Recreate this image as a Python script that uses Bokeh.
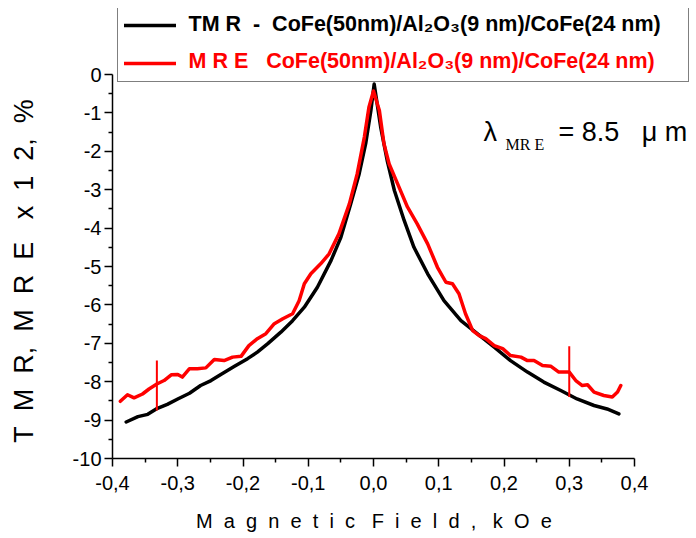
from bokeh.plotting import figure
from bokeh.models import (Range1d, FixedTicker, CustomJSTickFormatter, Legend,
                          LegendItem, Label)
from bokeh.embed import file_html
from bokeh.resources import INLINE

# ---------------- data ----------------
tmr_x = [-0.379, -0.361, -0.346, -0.333, -0.316, -0.300, -0.282, -0.265, -0.249,
         -0.234, -0.213, -0.193, -0.178, -0.162, -0.142, -0.124, -0.106, -0.086,
         -0.065, -0.050, -0.035, -0.022, -0.012, -0.004, 0.001, 0.011, 0.021,
         0.032, 0.047, 0.062, 0.083, 0.108, 0.134, 0.159, 0.185, 0.210, 0.236,
         0.261, 0.287, 0.312, 0.338, 0.358, 0.376]
tmr_y = [-9.05, -8.91, -8.85, -8.71, -8.59, -8.45, -8.30, -8.10, -7.97,
         -7.81, -7.60, -7.40, -7.23, -7.01, -6.71, -6.41, -6.06, -5.54,
         -4.84, -4.24, -3.37, -2.59, -1.80, -0.94, -0.25, -1.37, -2.24,
         -3.02, -3.80, -4.50, -5.19, -5.89, -6.41, -6.75, -7.10, -7.45, -7.75,
         -8.01, -8.23, -8.45, -8.62, -8.71, -8.84]

mre_x = [-0.388, -0.377, -0.367, -0.354, -0.344, -0.332, -0.321, -0.310, -0.300,
         -0.293, -0.282, -0.270, -0.257, -0.244, -0.229, -0.216, -0.203, -0.191,
         -0.178, -0.165, -0.152, -0.139, -0.124, -0.114, -0.106, -0.096, -0.081,
         -0.068, -0.053, -0.037, -0.025, -0.014, -0.007, 0.000, 0.009, 0.016,
         0.024, 0.037, 0.052, 0.067, 0.083, 0.098, 0.111, 0.121, 0.131, 0.141,
         0.152, 0.162, 0.172, 0.185, 0.198, 0.210, 0.226, 0.236, 0.246, 0.259,
         0.272, 0.284, 0.300, 0.310, 0.320, 0.328, 0.338, 0.353, 0.366, 0.374,
         0.379]
mre_y = [-8.51, -8.34, -8.42, -8.32, -8.19, -8.06, -7.97, -7.82, -7.81,
         -7.88, -7.66, -7.66, -7.64, -7.42, -7.45, -7.36, -7.34, -7.06,
         -6.88, -6.75, -6.49, -6.36, -6.23, -5.89, -5.45, -5.19, -4.93,
         -4.67, -4.15, -3.37, -2.59, -1.63, -0.85, -0.43, -0.94, -1.80,
         -2.33, -2.85, -3.45, -3.89, -4.41, -5.02, -5.41, -5.45, -5.71, -6.23,
         -6.67, -6.80, -6.88, -7.06, -7.14, -7.32, -7.36, -7.45, -7.45, -7.58,
         -7.60, -7.75, -7.75, -7.97, -8.10, -8.08, -8.27, -8.36, -8.40, -8.27,
         -8.10]

marker_x = [-0.332, 0.300]
marker_top = [-7.45, -7.08]
marker_bottom = [-8.75, -8.40]

x_ticks = [-0.4, -0.3, -0.2, -0.1, 0.0, 0.1, 0.2, 0.3, 0.4]
x_tick_labels = ["-0,4", "-0,3", "-0,2", "-0,1", "0,0", "0,1", "0,2", "0,3", "0,4"]
x_minor_ticks = [-0.35, -0.25, -0.15, -0.05, 0.05, 0.15, 0.25, 0.35]
y_ticks = [-10, -9, -8, -7, -6, -5, -4, -3, -2, -1, 0]
y_tick_labels = ["-10", "-9", "-8", "-7", "-6", "-5", "-4", "-3", "-2", "-1", "0"]
y_minor_ticks = [-9.5, -8.5, -7.5, -6.5, -5.5, -4.5, -3.5, -2.5, -1.5, -0.5]

NB = "\u00a0"
tmr_label = "TM R" + NB * 2 + "-" + NB * 2 + "CoFe(50nm)/Al\u2082O\u2083(9 nm)/CoFe(24 nm)"
mre_label = "M R E" + NB * 3 + "CoFe(50nm)/Al\u2082O\u2083(9 nm)/CoFe(24 nm)"
x_title = ((NB * 2).join(list("Magnetic")) + NB * 3 + (NB * 2).join(list("Field,"))
           + NB * 3 + (NB * 2).join(list("kOe")))
y_title = ("T" + NB * 2 + "M" + NB * 2 + "R," + NB * 2 + "M" + NB * 2 + "R" + NB * 2 + "E" + NB * 3
           + "x" + NB * 2 + "1" + NB * 2 + "2," + NB * 2 + "%")

# ---------------- layout ----------------
W, H = 696, 538
LEFT, TOP, BOTTOM = 112, 8, 80
PX_X = 652.5   # pixels per kOe
PX_Y = 38.4    # pixels per unit
FRAME_H = H - TOP - BOTTOM
x_end = -0.4 + (W - LEFT) / PX_X
y_end = FRAME_H / PX_Y - 10
TXT_UP = 9 / PX_Y   # baseline correction for text annotations

FONT = "Liberation Sans"

p = figure(width=W, height=H, x_range=Range1d(-0.4, x_end), y_range=Range1d(-10, y_end),
           output_backend="svg", toolbar_location=None,
           min_border_left=LEFT, min_border_bottom=BOTTOM, min_border_top=TOP, min_border_right=0)
p.outline_line_color = None
p.xgrid.visible = False
p.ygrid.visible = False
p.background_fill_color = "white"
p.border_fill_color = "white"

r_tmr = p.line(tmr_x, tmr_y, line_color="black", line_width=3.5, line_join="round", line_cap="round")
r_mre = p.line(mre_x, mre_y, line_color="#ff0000", line_width=3.5, line_join="round", line_cap="round")
p.segment(x0=marker_x, y0=marker_bottom, x1=marker_x, y1=marker_top, line_color="#ff0000", line_width=2)

for ax in (p.xaxis[0], p.yaxis[0]):
    ax.axis_line_width = 1.5
    ax.major_tick_line_width = 1.5
    ax.minor_tick_line_width = 1.5
    ax.major_tick_in = 0
    ax.major_tick_out = 8
    ax.minor_tick_in = 0
    ax.minor_tick_out = 4
    ax.major_label_text_font = FONT
    ax.major_label_text_font_size = "20px"
    ax.major_label_text_color = "black"
    ax.axis_label_text_font = FONT
    ax.axis_label_text_font_style = "normal"
    ax.axis_label_text_color = "black"

LOOKUP = "for (let i = 0; i < vals.length; i++) { if (Math.abs(vals[i] - tick) < 1e-6) return labels[i]; } return '';"
p.xaxis.bounds = (-0.4, 0.4)
p.yaxis.bounds = (-10, 0)
p.xaxis.ticker = FixedTicker(ticks=x_ticks, minor_ticks=x_minor_ticks)
p.yaxis.ticker = FixedTicker(ticks=y_ticks, minor_ticks=y_minor_ticks)
p.xaxis.formatter = CustomJSTickFormatter(args=dict(vals=x_ticks, labels=x_tick_labels), code=LOOKUP)
p.yaxis.formatter = CustomJSTickFormatter(args=dict(vals=y_ticks, labels=y_tick_labels), code=LOOKUP)
p.xaxis.major_label_standoff = 9
p.yaxis.major_label_standoff = 3

# axis titles: the trailing no-break spaces shift the centred text onto the axis bounds
p.xaxis.axis_label = x_title + NB * 11
p.xaxis.axis_label_text_font_size = "20px"
p.xaxis.axis_label_standoff = 17
p.yaxis.axis_label = y_title + NB * 10
p.yaxis.axis_label_text_font_size = "27px"
p.yaxis.axis_label_standoff = 31

# ---------------- legend (box + sample lines, transparent) ----------------
PAD, ITEM_H, SPACING = 6, 24, 14
LEG_H = 2 * PAD + 2 * ITEM_H + SPACING
legend = Legend(items=[LegendItem(label=" ", renderers=[r_tmr]),
                       LegendItem(label=" ", renderers=[r_mre])],
                location=(5, FRAME_H - LEG_H), padding=PAD, spacing=SPACING, margin=0,
                glyph_width=52, glyph_height=ITEM_H, label_height=ITEM_H, label_standoff=5,
                label_width=501, label_text_font=FONT, label_text_font_size="8px",
                border_line_color="black", border_line_width=1,
                background_fill_alpha=0.0)
p.add_layout(legend)

# legend texts
p.add_layout(Label(x=-0.2835, y=1.068 + TXT_UP, text=tmr_label,
                   text_font=FONT, text_font_size="21.5px", text_font_style="bold",
                   text_baseline="alphabetic", text_color="black"))
p.add_layout(Label(x=-0.2835, y=0.125 + TXT_UP, text=mre_label,
                   text_font=FONT, text_font_size="21.5px", text_font_style="bold",
                   text_baseline="alphabetic", text_color="#ff0000"))

# ---------------- annotations ----------------
p.add_layout(Label(x=0.1686, y=-1.719 + TXT_UP, text="\u03bb", text_font=FONT, text_font_size="27px",
                   text_baseline="alphabetic", text_color="black"))
p.add_layout(Label(x=0.2023, y=-2.057 + TXT_UP, text="MR E", text_font="Liberation Serif",
                   text_font_size="16px", text_baseline="alphabetic", text_color="black"))
p.add_layout(Label(x=0.2835, y=-1.719 + TXT_UP, text="=" + NB + "8.5" + NB * 3 + "\u03bc" + NB + "m",
                   text_font=FONT, text_font_size="27px", text_baseline="alphabetic",
                   text_color="black"))

open("out.html", "w").write(file_html(p, INLINE))
